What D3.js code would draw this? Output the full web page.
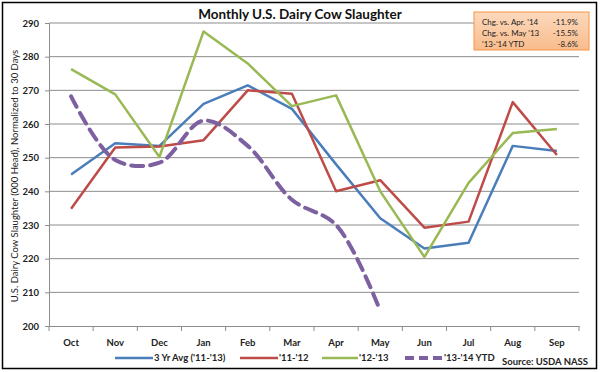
<!DOCTYPE html>
<html>
<head>
<meta charset="utf-8">
<script src="https://cdn.jsdelivr.net/npm/d3@7"></script>
<style>
body { margin: 0; background: #fff; }
text { font-family: Lato, "Open Sans", sans-serif; }
</style>
</head>
<body>
<script>
var w = 600;
var h = 372;

var months = ["Oct","Nov","Dec","Jan","Feb","Mar","Apr","May","Jun","Jul","Aug","Sep"];
var yTicks = [200,210,220,230,240,250,260,270,280,290];

var avg3yr = [245,254.3,253.5,266,271.5,264.5,248,232,223,224.7,253.5,252];
var y1112 = [234.8,253,253.3,255.2,270,269,240,243.3,229.2,231,266.5,250.8];
var y1213 = [276.3,268.8,250.2,287.5,278,265.3,268.5,240,220.5,242.5,257.3,258.5];
var ytd1314 = [268.2,249.3,248.5,261,253.5,237.5,230,204.5];

var seriesNames = ["3 Yr Avg ('11-'13)","'11-'12","'12-'13","'13-'14 YTD"];
var colors = ["#4a7ebb","#be4b48","#98b954","#7d60a0"];

var boxLabels = ["Chg. vs. Apr. '14","Chg. vs. May '13","'13-'14 YTD"];
var boxValues = ["-11.9%","-15.5%","-8.6%"];

var pLeft = 49, pRight = 579, pTop = 23, pBottom = 326;

var svg = d3.select("body").append("svg").attr("width",w).attr("height",h);

// outer frame
svg.append("rect").attr("x",2.5).attr("y",2.5).attr("width",594).attr("height",366)
.attr("fill","#fff").attr("stroke","#000").attr("stroke-width",1.5);

var x = d3.scaleBand().domain(months).range([pLeft,pRight]);
var y = d3.scaleLinear().domain([200,290]).range([pBottom,pTop]);

// gridlines
svg.selectAll("line.grid")
.data(yTicks.slice(1))
.enter()
.append("line")
.attr("x1",pLeft).attr("x2",pRight)
.attr("y1",function(d){return y(d);})
.attr("y2",function(d){return y(d);})
.attr("stroke","#8c8c8c").attr("stroke-width",1);

var yAxis = svg.append("g").attr("transform","translate("+pLeft+",0)")
.call(d3.axisLeft(y).tickValues(yTicks).tickSize(4).tickPadding(6));
var xAxis = svg.append("g").attr("transform","translate(0,"+pBottom+")")
.call(d3.axisBottom(x).tickSize(0).tickPadding(13));

// ticks between categories on x axis
xAxis.selectAll("line.sep")
.data(d3.range(months.length+1))
.enter()
.append("line")
.attr("x1",function(i){return pLeft + i*x.step();})
.attr("x2",function(i){return pLeft + i*x.step();})
.attr("y1",0).attr("y2",5)
.attr("stroke","#8c8c8c");

[yAxis,xAxis].forEach(function(g){
  g.select(".domain").attr("stroke","#8c8c8c");
  g.selectAll(".tick line").attr("stroke","#8c8c8c");
  g.selectAll("text").attr("font-size","9.5px").attr("font-weight","bold").attr("fill","#222")
  .style("font-family","Lato, sans-serif");
});

var line = d3.line()
.x(function(d,i){return x(months[i]) + x.bandwidth()/2;})
.y(function(d){return y(d);});

var allSeries = [avg3yr,y1112,y1213];
allSeries.forEach(function(s,k){
  svg.append("path").datum(s)
  .attr("d",line)
  .attr("fill","none")
  .attr("stroke",colors[k])
  .attr("stroke-width",2.5)
  .attr("stroke-linejoin","round");
});

var smooth = d3.line()
.x(function(d,i){return x(months[i]) + x.bandwidth()/2;})
.y(function(d){return y(d);})
.curve(d3.curveCatmullRom.alpha(0.5));

svg.append("path").datum(ytd1314)
.attr("d",smooth)
.attr("fill","none")
.attr("stroke",colors[3])
.attr("stroke-width",4)
.attr("stroke-dasharray","12,7")
.attr("stroke-linecap","round");

// title
svg.append("text").attr("x",300).attr("y",19).attr("text-anchor","middle")
.attr("font-size","13.5px").attr("font-weight","bold").attr("fill","#111")
.text("Monthly U.S. Dairy Cow Slaughter");

// y axis title
svg.append("text")
.attr("transform","translate(18,176) rotate(-90)")
.attr("text-anchor","middle")
.attr("font-size","9.5px").attr("fill","#222")
.text("U.S. Dairy Cow Slaughter (000 Head), Normalized to 30 Days");

// legend
var legX = [115,240,322,405];
var legW = [38,38,36,38];
seriesNames.forEach(function(name,k){
  var g = svg.append("g");
  g.append("line")
  .attr("x1",legX[k]).attr("x2",legX[k]+legW[k])
  .attr("y1",358).attr("y2",358)
  .attr("stroke",colors[k])
  .attr("stroke-width",k==3?4:2.5)
  .attr("stroke-dasharray",k==3?"9,5":null);
  g.append("text").attr("x",legX[k]+legW[k]+1).attr("y",361)
  .attr("font-size","9.5px").attr("font-weight","bold").attr("fill","#222")
  .text(name);
});

svg.append("text").attr("x",588).attr("y",365).attr("text-anchor","end")
.attr("font-size","9.5px").attr("font-weight","bold").attr("fill","#222")
.text("Source: USDA NASS");

// annotation box
var defs = svg.append("defs");
var grad = defs.append("linearGradient").attr("id","boxg")
.attr("x1","0").attr("y1","0").attr("x2","0").attr("y2","1");
grad.append("stop").attr("offset","0%").attr("stop-color","#fcd9bd");
grad.append("stop").attr("offset","100%").attr("stop-color","#f9bc8c");

svg.append("rect").attr("x",474).attr("y",12).attr("width",115).attr("height",38)
.attr("fill","url(#boxg)").attr("stroke","#f79646").attr("stroke-width",1);

boxLabels.forEach(function(t,i){
  svg.append("text").attr("x",482).attr("y",25+i*11)
  .attr("font-size","8px").attr("fill","#222").text(t);
  svg.append("text").attr("x",578).attr("y",25+i*11).attr("text-anchor","end")
  .attr("font-size","8px").attr("fill","#222").text(boxValues[i]);
});
</script>
</body>
</html>
